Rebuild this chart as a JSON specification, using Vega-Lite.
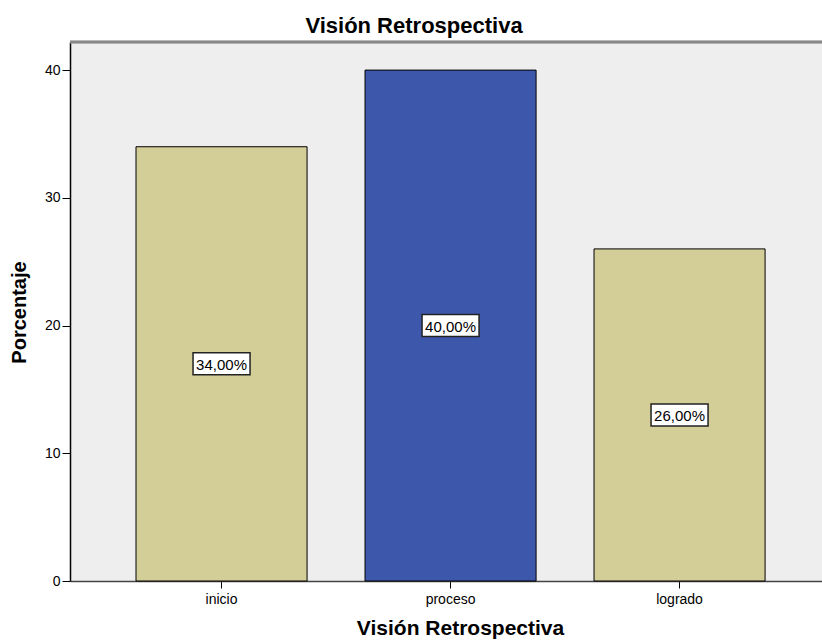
{
  "$schema": "https://vega.github.io/schema/vega-lite/v6.json",
  "autosize": "none",
  "width": 752,
  "height": 539,
  "padding": {"left": 70, "top": 42, "right": 0, "bottom": 60},
  "background": "#ffffff",
  "title": {
    "text": "Visión Retrospectiva",
    "fontSize": 22,
    "fontWeight": "bold",
    "color": "#000000",
    "frame": "group",
    "anchor": "middle",
    "dx": -32,
    "offset": -14,
    "baseline": "alphabetic"
  },
  "data": {
    "values": [
      {"nivel": "inicio", "pct": 34, "etiqueta": "34,00%"},
      {"nivel": "proceso", "pct": 40, "etiqueta": "40,00%"},
      {"nivel": "logrado", "pct": 26, "etiqueta": "26,00%"}
    ]
  },
  "transform": [{"calculate": "datum.pct / 2", "as": "mitad"}],
  "layer": [
    {
      "mark": {"type": "bar", "stroke": "#000000", "strokeWidth": 1},
      "encoding": {
        "x": {
          "field": "nivel",
          "type": "nominal",
          "sort": ["inicio", "proceso", "logrado"],
          "scale": {"paddingInner": 0.253, "paddingOuter": 0.2684, "align": 0.537},
          "axis": {
            "labelAngle": 0,
            "labelFontSize": 14,
            "labelColor": "#000000",
            "labelPadding": 4,
            "tickSize": 7,
            "tickColor": "#000000",
            "domainColor": "#444444",
            "domainWidth": 1.5,
            "title": "Visión Retrospectiva",
            "titleFontSize": 21,
            "titleFontWeight": "bold",
            "titleColor": "#000000",
            "titleBaseline": "alphabetic",
            "titleAlign": "center",
            "titleX": 390,
            "titleY": 53
          }
        },
        "y": {
          "field": "pct",
          "type": "quantitative",
          "scale": {"domain": [0, 42.2], "nice": false, "zero": true},
          "axis": {
            "values": [0, 10, 20, 30, 40],
            "grid": false,
            "labelFontSize": 14,
            "labelColor": "#000000",
            "labelPadding": 2,
            "tickSize": 8,
            "tickColor": "#000000",
            "domainColor": "#000000",
            "domainWidth": 1.5,
            "title": "Porcentaje",
            "titleFontSize": 20,
            "titleFontWeight": "bold",
            "titleColor": "#000000",
            "titleAngle": -90,
            "titleBaseline": "alphabetic",
            "titleAlign": "center",
            "titleX": -45,
            "titleY": 270
          }
        },
        "color": {
          "field": "nivel",
          "type": "nominal",
          "scale": {
            "domain": ["inicio", "proceso", "logrado"],
            "range": ["#D3CE97", "#3D58AB", "#D3CE97"]
          },
          "legend": null
        }
      }
    },
    {
      "mark": {"type": "rule", "color": "#888888", "strokeWidth": 2.5},
      "encoding": {"y": {"datum": 42.2, "type": "quantitative"}}
    },
    {
      "mark": {
        "type": "point",
        "shape": "M-1,-0.386H1V0.386H-1Z",
        "size": 3249,
        "filled": true,
        "fill": "#ffffff",
        "stroke": "#222222",
        "strokeWidth": 1.5,
        "opacity": 1
      },
      "encoding": {
        "x": {"field": "nivel", "type": "nominal", "sort": ["inicio", "proceso", "logrado"]},
        "y": {"field": "mitad", "type": "quantitative"}
      }
    },
    {
      "mark": {
        "type": "text",
        "fontSize": 15,
        "color": "#000000",
        "baseline": "middle",
        "align": "center",
        "dy": 1
      },
      "encoding": {
        "x": {"field": "nivel", "type": "nominal", "sort": ["inicio", "proceso", "logrado"]},
        "y": {"field": "mitad", "type": "quantitative"},
        "text": {"field": "etiqueta", "type": "nominal"}
      }
    }
  ],
  "config": {
    "font": "Liberation Sans",
    "view": {"stroke": null, "fill": "#EEEEEE"}
  }
}
